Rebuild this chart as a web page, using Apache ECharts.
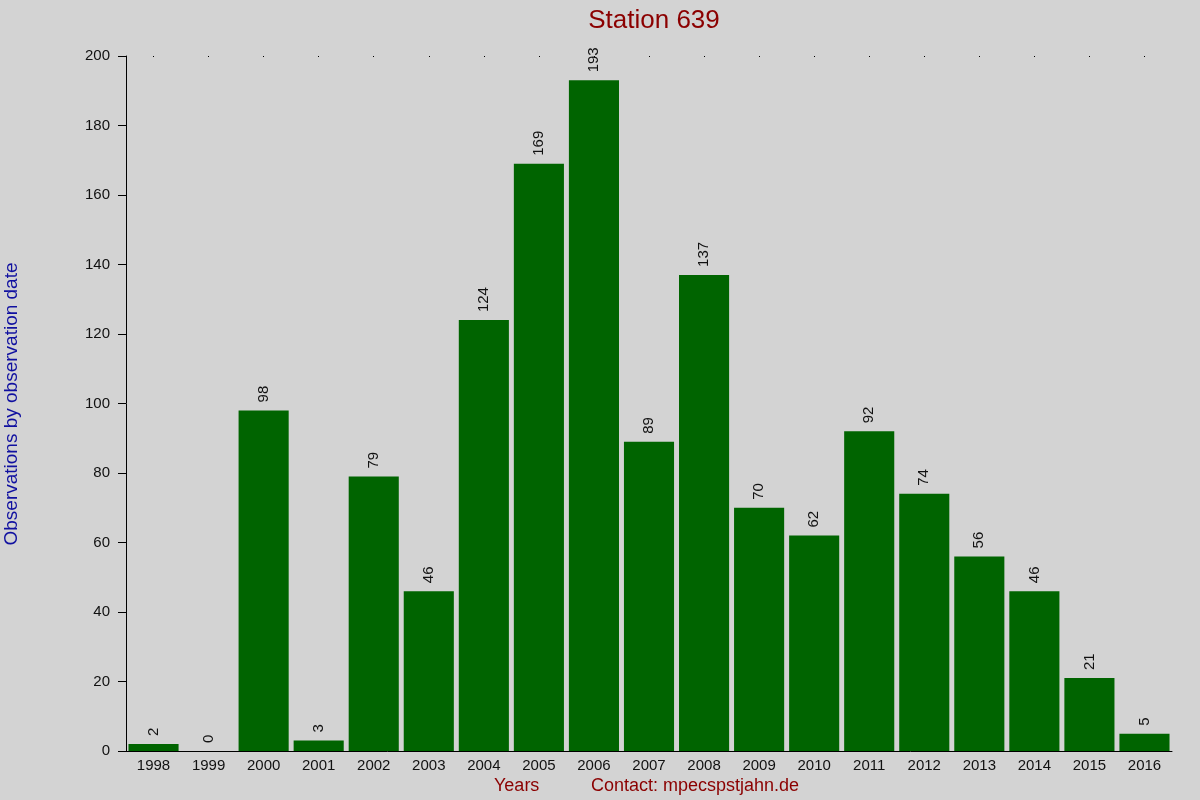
<!DOCTYPE html>
<html>
<head>
<meta charset="utf-8">
<script src="https://cdn.jsdelivr.net/npm/echarts@6/dist/echarts.min.js"></script>
<style>html,body{margin:0;padding:0;background:#d3d3d3;}#c{width:1200px;height:800px;}</style>
</head>
<body>
<div id="c"></div>
<script>
const years = ['1998','1999','2000','2001','2002','2003','2004','2005','2006','2007','2008','2009','2010','2011','2012','2013','2014','2015','2016'];
const observations = [2,0,98,3,79,46,124,169,193,89,137,70,62,92,74,56,46,21,5];
const titleText = 'Station 639';
const yName = 'Observations by observation date';
const xName = 'Years';
const contactText = 'Contact: mpecspstjahn.de';

const font = 'Liberation Sans, Arial, sans-serif';
const chart = echarts.init(document.getElementById('c'), null, {renderer:'canvas'});
chart.setOption({
  backgroundColor: '#d3d3d3',
  animation: false,
  title: {
    text: titleText, left: 649, top: 3, textAlign: 'center',
    textStyle: {color: '#8b0000', fontSize: 26, fontWeight: 'normal', fontFamily: font}
  },
  grid: {left: 126, right: 28, top: 56, bottom: 49},
  xAxis: [{
    type: 'category', data: years, position: 'bottom',
    axisLine: {show: true, lineStyle: {color: '#000', width: 1}},
    axisTick: {show: false},
    axisLabel: {color: '#111', fontSize: 15, fontFamily: font, margin: 7}
  },{
    type: 'category', data: years, position: 'top',
    axisLine: {show: false},
    axisTick: {show: true, alignWithLabel: true, length: 1, inside: true, lineStyle: {color: '#000'}},
    axisLabel: {show: false}
  }],
  yAxis: {
    type: 'value', min: 0, max: 200, interval: 20,
    splitLine: {show: false},
    axisLine: {show: true, lineStyle: {color: '#000', width: 1}},
    axisTick: {show: true, length: 8, lineStyle: {color: '#000'}},
    axisLabel: {color: '#111', fontSize: 15, fontFamily: font, margin: 16}
  },
  graphic: [
    {type: 'text', rotation: Math.PI/2, x: 12, y: 404,
     style: {text: yName, fill: '#1010a0', font: '19px ' + font, textAlign: 'center', textVerticalAlign: 'middle'}},
    {type: 'text', x: 494, y: 777, style: {text: xName, fill: '#8b0000', font: '18px ' + font}},
    {type: 'text', x: 591, y: 777, style: {text: contactText, fill: '#8b0000', font: '18px ' + font}}
  ],
  series: [{
    type: 'bar', data: observations, xAxisIndex: 0,
    barCategoryGap: '9%',
    itemStyle: {color: '#006400'},
    label: {
      show: true, position: 'top', rotate: 90, distance: 8,
      align: 'left', verticalAlign: 'middle',
      color: '#111', fontSize: 15, fontFamily: font
    }
  }]
});
</script>
</body>
</html>
